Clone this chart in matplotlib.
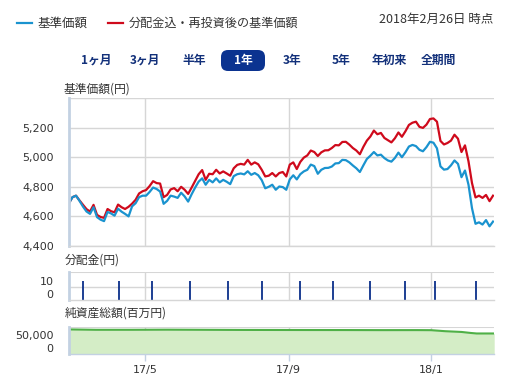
import numpy as np
import pandas as pd
import matplotlib
matplotlib.use("Agg")
from matplotlib import pyplot as plt
from matplotlib.lines import Line2D
from matplotlib.patches import FancyBboxPatch
from matplotlib.transforms import IdentityTransform

plt.rcParams['font.family'] = ['Noto Sans CJK JP', 'DejaVu Sans']

# 基準価額 / 分配金込み基準価額 (3日ごとに読み取り)
dates = pd.date_range('2017-02-25', periods=122, freq='3D')
nav_base = [4690, 4730, 4740, 4705, 4666, 4633, 4617, 4662, 4595, 4578,
            4568, 4630, 4620, 4605, 4652, 4632, 4617, 4600, 4668, 4689,
            4730, 4740, 4740, 4765, 4795, 4785, 4768, 4685, 4705, 4740,
            4734, 4725, 4760, 4735, 4700, 4750, 4795, 4835, 4857, 4814,
            4847, 4830, 4857, 4830, 4847, 4834, 4818, 4872, 4885, 4890,
            4884, 4905, 4881, 4893, 4878, 4845, 4790, 4800, 4814, 4780,
            4802, 4798, 4780, 4850, 4878, 4850, 4885, 4904, 4915, 4950,
            4940, 4888, 4915, 4927, 4928, 4937, 4958, 4960, 4982, 4980,
            4965, 4944, 4925, 4900, 4945, 4988, 5010, 5035, 5012, 5017,
            4994, 4978, 4970, 4995, 5031, 5000, 5033, 5072, 5083, 5075,
            5050, 5040, 5068, 5104, 5098, 5060, 4938, 4916, 4920, 4945,
            4978, 4955, 4865, 4910, 4814, 4655, 4550, 4560, 4545, 4575,
            4533, 4565]
nav_reinv = [4690, 4730, 4740, 4708, 4678, 4649, 4633, 4678, 4610, 4596,
             4590, 4650, 4635, 4628, 4680, 4662, 4650, 4665, 4686, 4712,
             4755, 4770, 4778, 4805, 4838, 4825, 4822, 4730, 4745, 4782,
             4791, 4770, 4800, 4780, 4752, 4795, 4840, 4885, 4913, 4847,
             4888, 4885, 4915, 4890, 4904, 4890, 4875, 4925, 4948, 4955,
             4950, 4982, 4950, 4965, 4952, 4915, 4870, 4875, 4893, 4870,
             4893, 4900, 4870, 4950, 4965, 4920, 4968, 4997, 5012, 5045,
             5035, 5008, 5033, 5046, 5047, 5062, 5082, 5080, 5103, 5104,
             5085, 5062, 5045, 5020, 5070, 5112, 5140, 5180, 5155, 5164,
             5130, 5115, 5100, 5128, 5167, 5138, 5175, 5218, 5233, 5240,
             5205, 5198, 5220, 5258, 5262, 5240, 5110, 5086, 5096, 5112,
             5152, 5125, 5035, 5080, 4972, 4825, 4728, 4740, 4725, 4745,
             4703, 4740]

# 分配金
dist_dates = pd.to_datetime(['2017-03-09', '2017-04-09', '2017-05-07', '2017-06-09',
                             '2017-07-11', '2017-08-09', '2017-09-11', '2017-10-09',
                             '2017-11-10', '2017-12-10', '2018-01-04', '2018-02-08'])
dist_values = [10, 10, 10, 10, 10, 10, 10, 10, 10, 10, 10, 10]

# 純資産総額(百万円)
aum_dates = pd.to_datetime(['2017-02-25', '2017-03-20', '2017-04-20', '2017-05-20',
                            '2017-06-20', '2017-07-20', '2017-08-20', '2017-09-20',
                            '2017-10-20', '2017-11-20', '2017-12-20', '2018-01-01',
                            '2018-01-13', '2018-01-27', '2018-02-04', '2018-02-09',
                            '2018-02-24'])
aum_values = [72000, 70500, 70500, 71000, 70500, 70000, 69800, 69600,
              69500, 69200, 69300, 69000, 65000, 62000, 58000, 56000, 56000]

tick_dates = pd.to_datetime(['2017-05-01', '2017-09-01', '2018-01-01'])
tick_labels = ['17/5', '17/9', '18/1']
periods = ['1ヶ月', '3ヶ月', '半年', '1年', '3年', '5年', '年初来', '全期間']
period_x = [96, 145, 194, 243, 292, 341, 389, 438]
active_period = '1年'

W, H = 511, 379
BLUE = '#1a93cf'
RED = '#cf0a1c'
GRID = '#d6d6d6'
SPINE = '#c3d1e2'
TEXT = '#333333'
NAVY = '#12307a'


def fx(x):
    return x / W


def fy(y):
    return 1 - y / H


def box(x0, y0, x1, y1):
    return [fx(x0), fy(y1), fx(x1) - fx(x0), fy(y0) - fy(y1)]


fig = plt.figure(figsize=(W / 100, H / 100), dpi=100)
xlim = (pd.Timestamp('2017-02-25'), pd.Timestamp('2018-02-23 20:00'))


def style(ax):
    ax.set_xlim(*xlim)
    ax.set_axisbelow(True)
    for s in ['top', 'right']:
        ax.spines[s].set_visible(False)
    ax.spines['left'].set_color(SPINE)
    ax.spines['left'].set_linewidth(2)
    ax.spines['bottom'].set_color(GRID)
    ax.spines['bottom'].set_linewidth(1)
    ax.set_xticks(tick_dates)
    ax.set_xticklabels([])
    ax.tick_params(axis='both', length=0, labelsize=8, labelcolor=TEXT, pad=11)
    for t in ax.get_yticklabels():
        t.set_family('DejaVu Sans')
    ax.grid(axis='x', color=GRID, lw=1)


def num_labels(ax, labels):
    ax.set_yticklabels(labels, family='DejaVu Sans', fontsize=8, color=TEXT)


# main chart
ax = fig.add_axes(box(69, 98, 494, 246))
style(ax)
ax.plot(dates, nav_reinv, color=RED, lw=1.6)
ax.plot(dates, nav_base, color=BLUE, lw=1.6)
ax.set_ylim(4400, 5400)
ax.set_yticks([4400, 4600, 4800, 5000, 5200, 5400])
num_labels(ax, ['4,400', '4,600', '4,800', '5,000', '5,200', ''])
ax.grid(axis='y', color=GRID, lw=1)

# distribution
ax2 = fig.add_axes(box(69, 272.3, 494, 300))
style(ax2)
ax2.set_ylim(-4.6, 16.7)
ax2.vlines(dist_dates, -4.6, dist_values, color='#0b2f8a', lw=1.3)
ax2.set_yticks([0, 10])
num_labels(ax2, ['0', '10'])
ax2.axhline(5.2, color=GRID, lw=1, zorder=0.5)
ax2.axhline(16.7, color=GRID, lw=1.5, zorder=0.5)

# net assets
ax3 = fig.add_axes(box(69, 326.7, 494, 354))
style(ax3)
ax3.set_ylim(-24800, 82700)
ax3.fill_between(aum_dates, aum_values, -24800, color='#d4edc6', lw=0)
ax3.plot(aum_dates, aum_values, color='#4fb047', lw=1.5)
ax3.set_yticks([0, 50000])
num_labels(ax3, ['0', '50,000'])
ax3.axhline(82700, color=GRID, lw=1.5, zorder=0.5)
ax3.spines['bottom'].set_color(SPINE)
ax3.set_xticklabels(tick_labels, family='DejaVu Sans', fontsize=8, color=TEXT)
ax3.tick_params(axis='x', length=5, color=SPINE, width=1, pad=3)

# section titles
fig.text(fx(64), fy(89), '基準価額(円)', fontsize=8.5, color=TEXT, va='center')
fig.text(fx(65), fy(260), '分配金(円)', fontsize=8.5, color=TEXT, va='center')
fig.text(fx(65), fy(313), '純資産総額(百万円)', fontsize=8.5, color=TEXT, va='center')

# legend
fig.add_artist(Line2D([fx(17), fx(32)], [fy(23), fy(23)], color=BLUE, lw=1.6))
fig.text(fx(38), fy(23), '基準価額', fontsize=9, color=TEXT, va='center')
fig.add_artist(Line2D([fx(108), fx(123)], [fy(23), fy(23)], color=RED, lw=1.6))
fig.text(fx(129), fy(23), '分配金込・再投資後の基準価額', fontsize=8.7, color=TEXT, va='center')
fig.text(fx(493), fy(19), '2018年2月26日 時点', fontsize=9, color=TEXT, va='center', ha='right')

# period buttons
for label, x in zip(periods, period_x):
    if label == active_period:
        btn = FancyBboxPatch((x - 22, H - 71), 44, 21,
                             boxstyle='round,pad=0,rounding_size=7',
                             fc='#0b3390', ec='none', transform=IdentityTransform())
        fig.add_artist(btn)
        fig.text(fx(x), fy(60.5), label, fontsize=8.5, color='white',
                 fontweight='bold', ha='center', va='center')
    else:
        fig.text(fx(x), fy(60.5), label, fontsize=8.5, color=NAVY,
                 fontweight='bold', ha='center', va='center')

fig.savefig('out.png', dpi=100)
